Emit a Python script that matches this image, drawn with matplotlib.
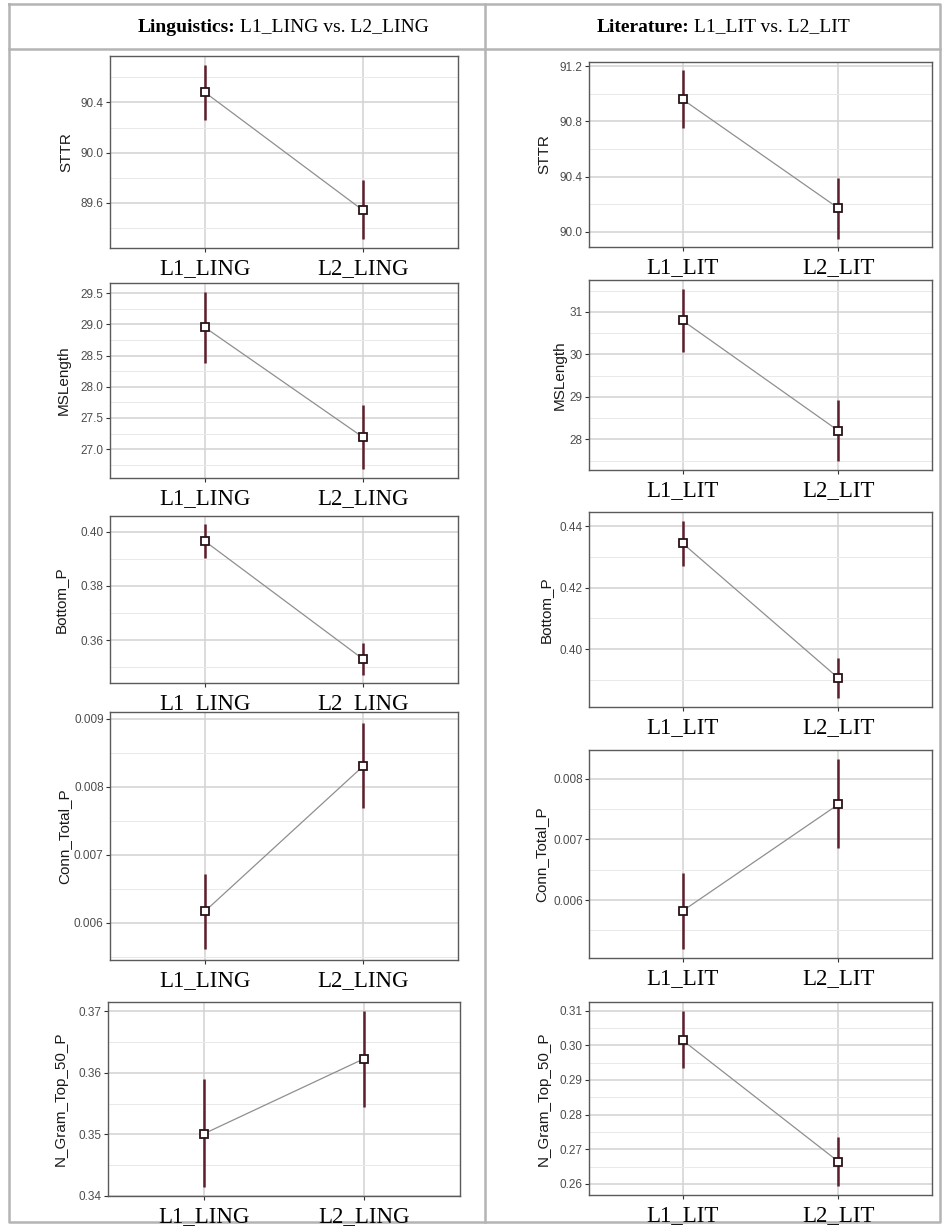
import matplotlib
matplotlib.use("Agg")
import matplotlib.pyplot as plt
from matplotlib.ticker import MultipleLocator, FormatStrFormatter

# data
measures = ["STTR", "MSLength", "Bottom_P", "Conn_Total_P", "N_Gram_Top_50_P"]
ling_groups = ["L1_LING", "L2_LING"]
lit_groups = ["L1_LIT", "L2_LIT"]

ling_mean = [[90.48, 89.54], [28.95, 27.19], [0.3965, 0.3530], [0.00617, 0.00830], [0.3501, 0.3623]]
ling_lo = [[90.26, 89.31], [28.38, 26.68], [0.3903, 0.3470], [0.00562, 0.00768], [0.3414, 0.3545]]
ling_hi = [[90.70, 89.78], [29.52, 27.70], [0.4030, 0.3590], [0.00672, 0.00893], [0.3590, 0.3701]]

lit_mean = [[90.96, 90.17], [30.80, 28.20], [0.4345, 0.3905], [0.00582, 0.00758], [0.3015, 0.2664]]
lit_lo = [[90.75, 89.95], [30.05, 27.48], [0.4272, 0.3840], [0.00520, 0.00686], [0.2935, 0.2593]]
lit_hi = [[91.17, 90.39], [31.55, 28.92], [0.4418, 0.3970], [0.00645, 0.00832], [0.3100, 0.2735]]

ling_step = [0.4, 0.5, 0.02, 0.001, 0.01]
lit_step = [0.4, 1.0, 0.02, 0.001, 0.01]
ling_fmt = ["%.1f", "%.1f", "%.2f", "%.3f", "%.2f"]
lit_fmt = ["%.1f", "%.0f", "%.2f", "%.3f", "%.2f"]

# layout in pixels: (left, right, top, bottom) of each panel box
W, H = 949, 1227
ling_boxes = [(110, 458, 56, 248), (110, 458, 283, 478), (110, 458, 516, 683),
              (110, 458, 712, 960), (108, 460, 1002, 1196)]
lit_boxes = [(589, 932, 62, 247), (589, 932, 280, 470), (589, 932, 512, 707),
             (589, 932, 750, 958), (589, 932, 1002, 1195)]
ling_label_x = [73, 71, 68, 71, 68]
lit_label_x = [551, 567, 553, 548, 551]

fig = plt.figure(figsize=(W / 100, H / 100), dpi=100)

# table frame
bg = fig.add_axes([0, 0, 1, 1])
bg.set_xlim(0, W)
bg.set_ylim(H, 0)
bg.axis("off")
grey = "#b4b4b4"
bg.plot([9, 940, 940, 9, 9], [4, 4, 1222, 1222, 4], color=grey, lw=1.8)
bg.plot([9, 940], [49, 49], color=grey, lw=1.8)
bg.plot([485, 485], [4, 1222], color=grey, lw=1.8)


def header(cx, cy, bold, rest):
    t1 = bg.text(0, cy, bold, fontsize=14, family="Liberation Serif",
                 fontweight="bold", va="center", ha="left")
    t2 = bg.text(0, cy, " " + rest, fontsize=14, family="Liberation Serif",
                 va="center", ha="left")
    r = fig.canvas.get_renderer()
    w1 = t1.get_window_extent(r).width
    w2 = t2.get_window_extent(r).width
    x0 = cx - (w1 + w2) / 2
    t1.set_x(x0)
    t2.set_x(x0 + w1)


header(283, 27, "Linguistics:", "L1_LING vs. L2_LING")
header(723, 27, "Literature:", "L1_LIT vs. L2_LIT")


def panel(bx, groups, mean, lo, hi, name, step, fmt, lab_x):
    x0, x1, yt, yb = bx
    ax = fig.add_axes([x0 / W, 1 - yb / H, (x1 - x0) / W, (yb - yt) / H])
    ax.plot(groups, mean, color="#8f8f8f", lw=0.9, zorder=2)
    ax.vlines(groups, lo, hi, color="#5e1f2d", lw=1.8, zorder=3)
    ax.plot(groups, mean, ls="none", marker="s", ms=6.2, mfc="white",
            mec="#2a1418", mew=1.3, zorder=4)
    ax.set_xlim(-0.6, 1.6)
    ax.yaxis.set_major_locator(MultipleLocator(step))
    ax.yaxis.set_minor_locator(MultipleLocator(step / 2))
    ax.yaxis.set_major_formatter(FormatStrFormatter(fmt))
    ax.set_axisbelow(True)
    ax.grid(which="major", color="#d2d2d2", lw=1.1)
    ax.grid(which="minor", axis="y", color="#e9e9e9", lw=0.7)
    for s in ax.spines.values():
        s.set_color("#5a5a5a")
        s.set_linewidth(1.0)
    ax.tick_params(axis="y", which="major", length=3, width=0.8, color="#333333",
                   labelsize=8.5, labelcolor="#4d4d4d", pad=1.5)
    ax.tick_params(axis="y", which="minor", length=0)
    ax.tick_params(axis="x", length=3, width=0.8, color="#333333", labelsize=16.5,
                   pad=4)
    for t in ax.get_xticklabels():
        t.set_family("Liberation Serif")
    for t in ax.get_yticklabels():
        t.set_family("Liberation Sans")
    ax.set_ylabel(name, fontsize=11, family="Liberation Sans", color="#1a1a1a")
    ax.yaxis.set_label_coords((lab_x - x0) / (x1 - x0), 0.5)
    return ax


for i, name in enumerate(measures):
    panel(ling_boxes[i], ling_groups, ling_mean[i], ling_lo[i], ling_hi[i],
          name, ling_step[i], ling_fmt[i], ling_label_x[i])
    panel(lit_boxes[i], lit_groups, lit_mean[i], lit_lo[i], lit_hi[i],
          name, lit_step[i], lit_fmt[i], lit_label_x[i])

fig.savefig("out.png", dpi=100)
